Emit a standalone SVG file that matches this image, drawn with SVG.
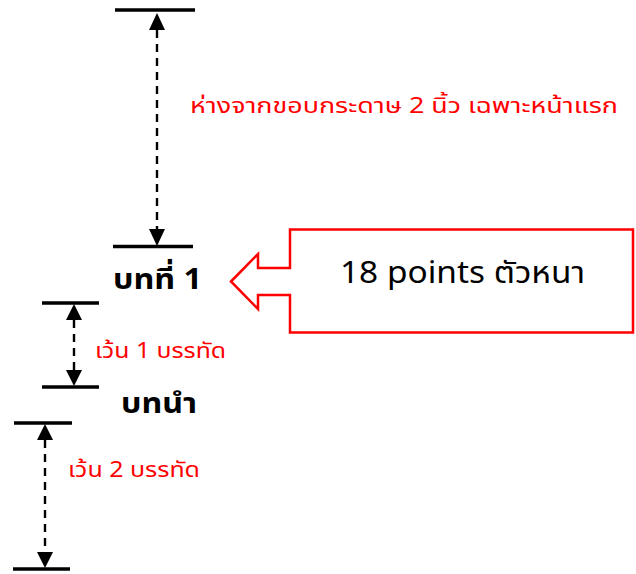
<svg xmlns="http://www.w3.org/2000/svg" width="636" height="574" viewBox="0 0 636 574">
<style>
.bar{stroke:#000;stroke-width:3.5;fill:none}
.dash{stroke:#000;stroke-width:2.4;stroke-dasharray:8 6;fill:none}
.red{fill:#ff0000;font-family:"Noto Sans Thai","Noto Sans","Liberation Sans",sans-serif;font-size:22px}
.head{fill:#000;font-family:"Noto Sans Thai","Noto Sans","Liberation Sans",sans-serif;font-size:29px;font-weight:bold}
.big{fill:#000;font-family:"Noto Sans Thai","Noto Sans","Liberation Sans",sans-serif;font-size:30px}
</style>
<g id="connectors">
<path class="dash" d="M157,30 V230"/>
<polygon points="157,13 149,30 165,30" fill="#000"/>
<polygon points="157,246 149,229 165,229" fill="#000"/>
<path class="dash" d="M74,320 V371"/>
<polygon points="74,304 66,320 82,320" fill="#000"/>
<polygon points="74,386 66,370 82,370" fill="#000"/>
<path class="dash" d="M45,440 V552"/>
<polygon points="45,424 37,440 53,440" fill="#000"/>
<polygon points="45,568 37,552 53,552" fill="#000"/>
</g>
<g id="bars">
<line class="bar" x1="115" y1="10" x2="195" y2="10"/>
<line class="bar" x1="113" y1="246.5" x2="193" y2="246.5"/>
<line class="bar" x1="42" y1="303" x2="99" y2="303"/>
<line class="bar" x1="42" y1="387" x2="99" y2="387"/>
<line class="bar" x1="14" y1="423" x2="72" y2="423"/>
<line class="bar" x1="13" y1="569" x2="70" y2="569"/>
</g>
<g id="label-top">
<text class="red" x="190" y="113" font-size="25" textLength="428" lengthAdjust="spacingAndGlyphs">ห่างจากขอบกระดาษ 2 นิ้ว เฉพาะหน้าแรก</text>
</g>
<g id="chapter">
<text class="head" x="113" y="289" textLength="89" lengthAdjust="spacingAndGlyphs">บทที่ 1</text>
</g>
<g id="label-1">
<text class="red" x="95" y="358" textLength="131" lengthAdjust="spacingAndGlyphs">เว้น 1 บรรทัด</text>
</g>
<g id="intro">
<text class="head" x="121" y="413" textLength="76" lengthAdjust="spacingAndGlyphs">บทนำ</text>
</g>
<g id="label-2">
<text class="red" x="68" y="477" textLength="132" lengthAdjust="spacingAndGlyphs">เว้น 2 บรรทัด</text>
</g>
<g id="callout">
<path d="M231,281.5 L258,254 L258,268 L290,268 L290,229.5 L633,229.5 L633,332.5 L290,332.5 L290,295 L258,295 L258,309 Z" fill="#fff" stroke="#ff0000" stroke-width="2.5" stroke-linejoin="miter"/>
<text class="big" x="340" y="283" textLength="245" lengthAdjust="spacingAndGlyphs">18 points ตัวหนา</text>
</g>
</svg>
